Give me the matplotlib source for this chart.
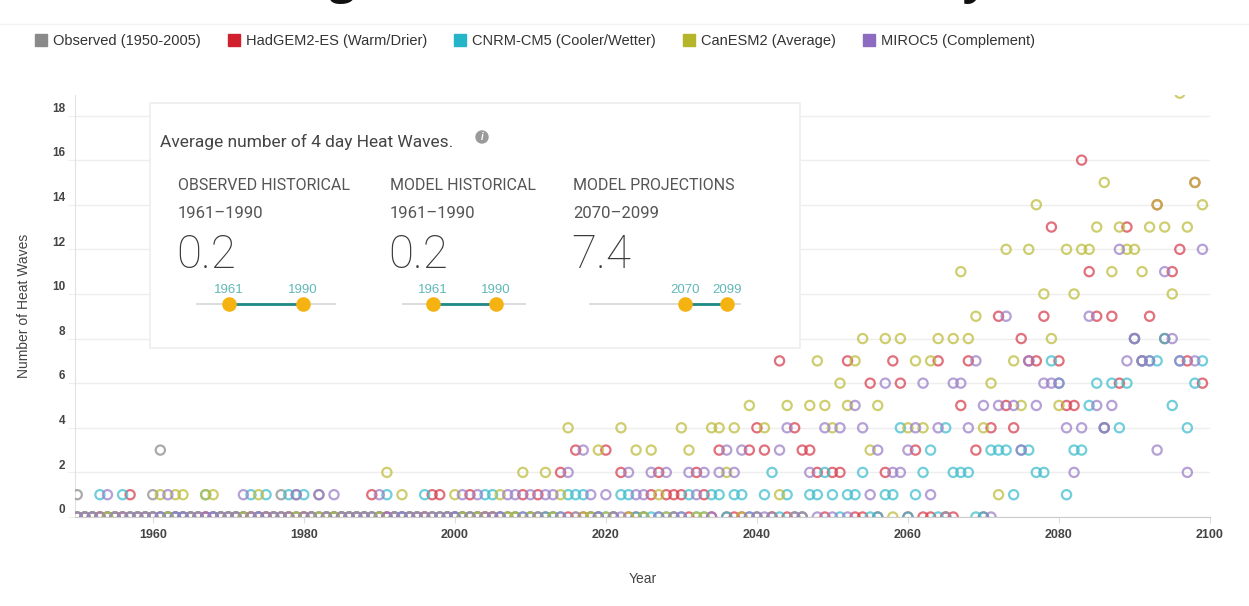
import numpy as np
import matplotlib
matplotlib.use("Agg")
import matplotlib.pyplot as plt
from matplotlib.lines import Line2D
from matplotlib.patches import Rectangle, Circle
from matplotlib.transforms import ScaledTranslation

W, H = 1249, 606

# yearly heat wave counts, only the non-zero years are listed
OBS_YEARS = (1950, 2005)
MODEL_YEARS = (1950, 2099)

OBSERVED = {1950: 1, 1960: 1, 1961: 3, 1977: 1, 1979: 1, 1982: 1}

HADGEM = {1957: 1, 1989: 1, 1997: 1, 1998: 1, 2002: 1, 2009: 1, 2011: 1, 2014: 2,
          2016: 3, 2020: 3, 2022: 2, 2026: 1, 2027: 2, 2028: 1, 2029: 1, 2030: 1,
          2032: 2, 2033: 1, 2035: 3, 2039: 3, 2040: 4, 2041: 3, 2043: 7, 2045: 4,
          2046: 3, 2047: 3, 2048: 2, 2050: 2, 2051: 2, 2052: 7, 2055: 6, 2057: 2,
          2058: 7, 2059: 6, 2061: 3, 2064: 7, 2067: 5, 2068: 7, 2069: 3, 2071: 4,
          2072: 9, 2073: 5, 2074: 4, 2075: 8, 2076: 7, 2077: 7, 2078: 9, 2079: 13,
          2080: 7, 2081: 5, 2082: 5, 2083: 16, 2084: 11, 2085: 9, 2086: 4, 2087: 9,
          2088: 6, 2089: 13, 2090: 8, 2091: 7, 2092: 9, 2093: 14, 2094: 8, 2095: 11,
          2096: 12, 2097: 7, 2098: 15, 2099: 6}

CNRM = {1953: 1, 1956: 1, 1967: 1, 1973: 1, 1975: 1, 1978: 1, 1980: 1, 1991: 1,
        1996: 1, 2004: 1, 2005: 1, 2015: 1, 2016: 1, 2017: 1, 2022: 1, 2023: 1,
        2031: 1, 2034: 1, 2035: 1, 2037: 1, 2038: 1, 2041: 1, 2042: 2, 2044: 1,
        2047: 1, 2048: 1, 2049: 2, 2050: 1, 2052: 1, 2053: 1, 2054: 2, 2057: 1,
        2058: 1, 2059: 4, 2061: 1, 2062: 2, 2063: 3, 2065: 4, 2066: 2, 2067: 2,
        2068: 2, 2071: 3, 2072: 3, 2073: 3, 2074: 1, 2075: 3, 2076: 3, 2077: 2,
        2078: 2, 2079: 7, 2080: 6, 2081: 1, 2082: 3, 2083: 3, 2084: 5, 2085: 6,
        2086: 4, 2087: 6, 2088: 4, 2089: 6, 2090: 8, 2091: 7, 2092: 7, 2093: 7,
        2094: 8, 2095: 5, 2096: 7, 2097: 4, 2098: 6, 2099: 7}

CANESM = {1961: 1, 1963: 1, 1964: 1, 1967: 1, 1968: 1, 1974: 1, 1991: 2, 1993: 1,
          2000: 1, 2006: 1, 2009: 2, 2012: 2, 2014: 1, 2015: 4, 2019: 3, 2022: 4,
          2024: 3, 2026: 3, 2027: 1, 2030: 4, 2031: 3, 2034: 4, 2035: 4, 2036: 2,
          2037: 4, 2039: 5, 2041: 4, 2043: 1, 2044: 5, 2047: 5, 2048: 7, 2049: 5,
          2050: 4, 2051: 6, 2052: 5, 2053: 7, 2054: 8, 2055: 3, 2056: 5, 2057: 8,
          2059: 8, 2060: 4, 2061: 7, 2062: 4, 2063: 7, 2064: 8, 2066: 8, 2067: 11,
          2068: 8, 2069: 9, 2070: 4, 2071: 6, 2072: 1, 2073: 12, 2074: 7, 2075: 5,
          2076: 12, 2077: 14, 2078: 10, 2079: 8, 2080: 5, 2081: 12, 2082: 10,
          2083: 12, 2084: 12, 2085: 13, 2086: 15, 2087: 11, 2088: 13, 2089: 12,
          2090: 12, 2091: 11, 2092: 13, 2093: 14, 2094: 13, 2095: 10, 2096: 19,
          2097: 13, 2098: 15, 2099: 14}

MIROC = {1954: 1, 1962: 1, 1972: 1, 1979: 1, 1982: 1, 1984: 1, 1990: 1, 2001: 1,
         2003: 1, 2007: 1, 2008: 1, 2010: 1, 2012: 1, 2013: 1, 2015: 2, 2017: 3,
         2018: 1, 2020: 1, 2023: 2, 2024: 1, 2025: 1, 2026: 2, 2028: 2, 2031: 2,
         2032: 1, 2033: 2, 2035: 2, 2036: 3, 2037: 2, 2038: 3, 2043: 3, 2044: 4,
         2047: 2, 2049: 4, 2051: 4, 2053: 5, 2054: 4, 2055: 1, 2056: 3, 2057: 6,
         2058: 2, 2059: 2, 2060: 3, 2061: 4, 2062: 6, 2063: 1, 2064: 4, 2066: 6,
         2067: 6, 2068: 4, 2069: 7, 2070: 5, 2072: 5, 2073: 9, 2074: 5, 2075: 3,
         2076: 7, 2077: 5, 2078: 6, 2079: 6, 2080: 6, 2081: 4, 2082: 2, 2083: 4,
         2084: 9, 2085: 5, 2086: 4, 2087: 5, 2088: 12, 2089: 7, 2090: 8, 2091: 7,
         2092: 7, 2093: 3, 2094: 11, 2095: 8, 2096: 7, 2097: 2, 2098: 7, 2099: 12}

SERIES = [
    ("Observed (1950-2005)", OBSERVED, OBS_YEARS, "#8a8a8a", "#8a8a8a"),
    ("HadGEM2-ES (Warm/Drier)", HADGEM, MODEL_YEARS, "#d63a4a", "#d0202e"),
    ("CNRM-CM5 (Cooler/Wetter)", CNRM, MODEL_YEARS, "#3bbccc", "#26b4c8"),
    ("CanESM2 (Average)", CANESM, MODEL_YEARS, "#bcbc3a", "#b5b52a"),
    ("MIROC5 (Complement)", MIROC, MODEL_YEARS, "#9a7dc8", "#8c6bc1"),
]

SUMMARY = [("OBSERVED HISTORICAL", "1961\u20131990", "0.2", 1961, 1990),
           ("MODEL HISTORICAL", "1961\u20131990", "0.2", 1961, 1990),
           ("MODEL PROJECTIONS", "2070\u20132099", "7.4", 2070, 2099)]


def to_series(events, span):
    years = np.arange(span[0], span[1] + 1)
    vals = np.array([events.get(y, 0) for y in years])
    return years, vals


plt.rcParams["font.family"] = ["Liberation Sans", "DejaVu Sans"]

fig = plt.figure(figsize=(W / 100, H / 100), dpi=100)
fig.patch.set_facecolor("white")


def frac(x0, y0, x1, y1):
    return [x0 / W, 1 - y1 / H, (x1 - x0) / W, (y1 - y0) / H]


ax = fig.add_axes(frac(75, 95, 1210, 517))
for name, events, span, color, _ in SERIES:
    yrs, vals = to_series(events, span)
    ax.scatter(yrs, vals, s=44, facecolors="none", edgecolors=color,
               linewidths=1.6, alpha=0.72, zorder=3)

ax.set_xlim(1949.7, 2100)
ax.set_ylim(0, 18.92)
ax.set_xticks(np.arange(1960, 2101, 20))
ax.set_yticks(np.arange(0, 19, 2))
ax.yaxis.grid(True, color="#eeeeee", lw=1)
ax.set_axisbelow(True)
for side in ("top", "right"):
    ax.spines[side].set_visible(False)
ax.spines["left"].set_color("#e2e2e2")
ax.spines["bottom"].set_color("#cccccc")
ax.tick_params(axis="y", length=5, color="#eeeeee", labelsize=8.5, labelcolor="#444444", pad=2)
ax.tick_params(axis="x", length=4, color="#dddddd", labelsize=9, labelcolor="#444444", pad=5)
for lbl in ax.get_yticklabels() + ax.get_xticklabels():
    lbl.set_fontweight("bold")
for lbl in ax.get_yticklabels():
    lbl.set_transform(lbl.get_transform() + ScaledTranslation(0, 6 / 72, fig.dpi_scale_trans))
ax.set_xlabel("Year", fontsize=10, color="#444444", labelpad=22)
ax.set_ylabel("Number of Heat Waves", fontsize=10, color="#444444", labelpad=15)

# overlay in pixel coordinates for the summary card and header
ov = fig.add_axes([0, 0, 1, 1], zorder=5)
ov.set_xlim(0, W)
ov.set_ylim(H, 0)
ov.axis("off")
ov.patch.set_alpha(0)

# page heading, mostly scrolled off the top edge
ov.text(650, -7, "Average Number of Heat Waves by Year", ha="center", va="baseline",
        fontsize=33, fontweight="bold", family="Open Sans", color="#111111")
ov.plot([0, W], [24, 24], color="#f3f3f3", lw=1)

ov.add_patch(Rectangle((150, 103), 650, 245, facecolor="white", edgecolor="#eeeeee", lw=1.2))
ov.text(160, 142, "Average number of 4 day Heat Waves.", fontsize=12.5, color="#444444",
        va="center", family="Roboto")
ov.add_patch(Circle((482, 137), 6, color="#9a9a9a"))
ov.text(482, 137.5, "i", fontsize=7, color="white", ha="center", va="center",
        fontweight="bold", style="italic")

for (head, period, value, y0, y1), x0, bar in zip(
        SUMMARY, (178, 390, 573), ((197, 335, 229, 303), (403, 525, 433, 496), (590, 740, 685, 727))):
    ov.text(x0, 186, head, fontsize=11.5, color="#555555", va="center", family="Roboto")
    ov.text(x0, 214, period, fontsize=12, color="#555555", va="center", family="Roboto")
    ov.text(x0 - 2, 255, value, fontsize=33, color="#3a3a3a", va="center",
            family="Roboto", fontweight="light")
    lx0, lx1, d0, d1 = bar
    ov.plot([lx0, lx1], [304, 304], color="#d5d5d5", lw=1.2)
    ov.plot([d0, d1], [304, 304], color="#1f8a86", lw=2)
    ov.scatter([d0, d1], [304, 304], s=90, color="#f5b312", zorder=6)
    ov.text(d0, 290, str(y0), fontsize=9.5, color="#62b8b8", ha="center", va="center")
    ov.text(d1, 290, str(y1), fontsize=9.5, color="#62b8b8", ha="center", va="center")

handles = [Line2D([], [], marker="s", linestyle="none", markersize=8, color=leg)
           for _, _, _, _, leg in SERIES]
fig.legend(handles, [s[0] for s in SERIES], loc="center left",
           bbox_to_anchor=(22 / W, 1 - 41 / H), ncol=5, frameon=False,
           fontsize=10.5, handlelength=0.8, handletextpad=0.4, columnspacing=1.9,
           labelcolor="#333333")

fig.savefig("out.png", dpi=100, facecolor="white")
